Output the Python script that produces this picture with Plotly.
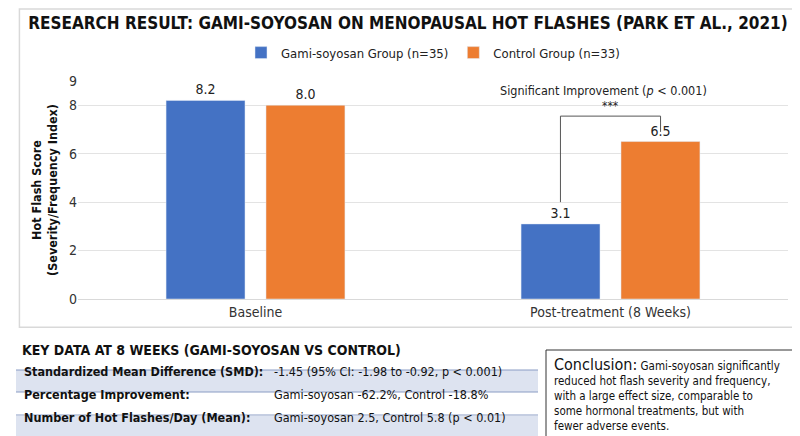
import plotly.graph_objects as go

categories = ["Baseline", "Post-treatment (8 Weeks)"]
gami = [8.2, 3.1]
control = [8.0, 6.5]
series_names = ["Gami-soyosan Group (n=35)", "Control Group (n=33)"]
y_ticks = [0, 2, 4, 6, 8, 9]

table_title = "KEY DATA AT 8 WEEKS (GAMI-SOYOSAN VS CONTROL)"
table_labels = ["Standardized Mean Difference (SMD):", "Percentage Improvement:",
                "Number of Hot Flashes/Day (Mean):"]
table_values = ["-1.45 (95% CI: -1.98 to -0.92, p < 0.001)",
                "Gami-soyosan -62.2%, Control -18.8%",
                "Gami-soyosan 2.5, Control 5.8 (p < 0.01)"]

FONT = "DejaVu Sans Condensed, Liberation Sans Narrow, Open Sans, sans-serif"
BLUE, ORANGE = "#4472c4", "#ed7d31"
W, H = 800, 436

fig = go.Figure()
fig.add_trace(go.Bar(x=[0, 1], y=gami, name=series_names[0], marker_color=BLUE,
                     text=[f"{v:.1f}" for v in gami], textposition="outside",
                     textfont=dict(size=14, color="#222"), cliponaxis=False))
fig.add_trace(go.Bar(x=[0, 1], y=control, name=series_names[1], marker_color=ORANGE,
                     text=[f"{v:.1f}" for v in control], textposition="outside",
                     textfont=dict(size=14, color="#222"), cliponaxis=False))

# significance bracket over the post-treatment pair
off = 0.141
top = 7.55
bl = dict(color="#555", width=1)
fig.add_shape(type="line", x0=1 - off, x1=1 - off, y0=gami[1] + 0.9, y1=top, line=bl)
fig.add_shape(type="line", x0=1 - off, x1=1 + off, y0=top, y1=top, line=bl)
fig.add_shape(type="line", x0=1 + off, x1=1 + off, y0=top, y1=control[1] + 0.4, line=bl)
fig.add_annotation(x=1, y=top, text="***", showarrow=False, yanchor="bottom", yshift=1,
                   font=dict(size=12, color="#222"))
fig.add_annotation(x=0.98, y=top + 0.65, text="Significant Improvement (<i>p</i> < 0.001)",
                   showarrow=False, yanchor="bottom", font=dict(size=12.5, color="#222"))

# chart frame
fig.add_shape(type="rect", xref="paper", yref="paper", x0=-0.0825, x1=1.022,
              y0=-0.13, y1=1.33, line=dict(color="#d9d9d9", width=1.5), layer="below")

def py(p):  # pixel y -> paper y
    return (H - 145 - p) / (436 - 73 - 145)

def px(p):
    return (p - 70) / 710

fig.add_annotation(xref="paper", yref="paper", x=px(12), y=py(352), text=f"<b>{table_title}</b>",
                   showarrow=False, xanchor="left", font=dict(size=14, color="#111"))
rows_y = [373, 396, 419]
for i, (lab, val) in enumerate(zip(table_labels, table_values)):
    y = rows_y[i]
    if i != 1:
        fig.add_shape(type="rect", xref="paper", yref="paper", x0=px(8), x1=px(530),
                      y0=py(y + 11), y1=py(y - 11), fillcolor="#dde3f0", line_width=0,
                      layer="below")
    fig.add_shape(type="line", xref="paper", yref="paper", x0=px(8), x1=px(530),
                  y0=py(y + 11), y1=py(y + 11), line=dict(color="#8a9cc4", width=1))
    fig.add_annotation(xref="paper", yref="paper", x=px(14), y=py(y), text=f"<b>{lab}</b>",
                       showarrow=False, xanchor="left", font=dict(size=12.5, color="#111"))
    fig.add_annotation(xref="paper", yref="paper", x=px(264), y=py(y), text=val,
                       showarrow=False, xanchor="left", font=dict(size=12.5, color="#111"))
fig.add_shape(type="line", xref="paper", yref="paper", x0=px(8), x1=px(530),
              y0=py(362), y1=py(362), line=dict(color="#8a9cc4", width=1))

# conclusion box
fig.add_shape(type="rect", xref="paper", yref="paper", x0=px(538), x1=px(795),
              y0=py(432), y1=py(342), line=dict(color="#333", width=1), fillcolor="white",
              layer="below")
fig.add_annotation(xref="paper", yref="paper", x=px(544), y=py(345), xanchor="left", yanchor="top",
                   align="left", showarrow=False, font=dict(size=11.5, color="#111"),
                   text="<span style='font-size:16px'>Conclusion:</span> Gami-soyosan significantly<br>"
                        "reduced hot flash severity and frequency,<br>with a large effect size, comparable to<br>"
                        "some hormonal treatments, but with<br>fewer adverse events.")

fig.update_layout(
    width=W, height=H, margin=dict(l=70, r=20, t=73, b=145),
    barmode="group", bargap=0.437, bargroupgap=0.21,
    font=dict(family=FONT, size=13, color="#333"),
    title=dict(text="<b>RESEARCH RESULT: GAMI-SOYOSAN ON MENOPAUSAL HOT FLASHES (PARK ET AL., 2021)</b>",
               x=0.5, y=0.965, xanchor="center", yanchor="middle", font=dict(size=17, color="#111")),
    legend=dict(orientation="h", x=0.5, xanchor="center", y=1.13, yanchor="middle",
                font=dict(size=13, color="#222")),
    xaxis=dict(range=[-0.5, 1.5], tickvals=[0, 1], ticktext=categories, showgrid=False,
               showline=True, linecolor="#d9d9d9", tickfont=dict(size=14, color="#333")),
    yaxis=dict(range=[0, 9], tickvals=y_ticks, showgrid=True, gridcolor="#e3e3e3",
               zeroline=False, tickfont=dict(size=14, color="#333"),
               title=dict(text="<b>Hot Flash Score<br>(Severity/Frequency Index)</b>",
                          font=dict(size=12.5, color="#111"), standoff=8)),
    plot_bgcolor="white", paper_bgcolor="white",
)

fig.write_html("out.html")
